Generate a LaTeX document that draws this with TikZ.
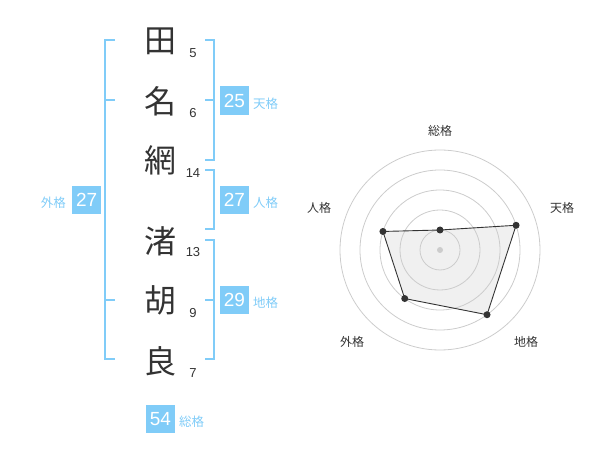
\documentclass[tikz,border=0pt]{standalone}
\usepackage{fontspec}
\setmainfont{Liberation Sans}
\newfontfamily\jp{Noto Sans CJK JP}
\definecolor{kblue}{HTML}{80CCF8}
\definecolor{ink}{HTML}{333333}
\definecolor{ring}{HTML}{CCCCCC}
\definecolor{area}{HTML}{F0F0F0}
\begin{document}
\begin{tikzpicture}[x=1pt,y=-1pt,
  kanji/.style={font=\jp\fontsize{32}{32}\selectfont, text=ink, inner sep=0pt},
  strokes/.style={font=\fontsize{13}{13}\selectfont, text=ink, inner sep=0pt},
  kbox/.style={fill=kblue, text=white, minimum size=28.5pt, inner sep=0pt, font=\fontsize{19}{19}\selectfont},
  klabel/.style={text=kblue, font=\jp\fontsize{12.5}{12.5}\selectfont, inner sep=0pt},
  brack/.style={draw=kblue, line width=2pt},
  rlabel/.style={text=ink, font=\jp\fontsize{12}{12}\selectfont, inner sep=0pt},
  ringline/.style={draw=ring, line width=0.8pt},
  vdot/.style={circle, fill=ink, minimum size=7pt, inner sep=0pt},
  cdot/.style={circle, fill=ring, minimum size=6pt, inner sep=0pt},
  poly/.style={draw=ink, line width=0.9pt}
]
\useasboundingbox (0,0) rectangle (600,470);

% characters
\node[kanji] (c1) at (160,41) {田};
\node[kanji] (c2) at (160,101) {名};
\node[kanji] (c3) at (160,160) {網};
\node[kanji] (c4) at (160,241) {渚};
\node[kanji] (c5) at (160,300) {胡};
\node[kanji] (c6) at (160,361) {良};

% stroke counts
\node[strokes] (n1) at (193,53) {5};
\node[strokes] (n2) at (193,113) {6};
\node[strokes] (n3) at (193,173) {14};
\node[strokes] (n4) at (193,252) {13};
\node[strokes] (n5) at (193,313) {9};
\node[strokes] (n6) at (193,373) {7};

% right brackets
\coordinate (t1) at (205,40);
\coordinate (t2) at (205,160);
\coordinate (tm) at (205,100);
\draw[brack] (t1) -- ++(9,0) |- (t2);
\draw[brack] (tm) -- ++(9,0);

\coordinate (j1) at (205,170);
\coordinate (j2) at (205,229);
\draw[brack] (j1) -- ++(9,0) |- (j2);

\coordinate (g1) at (205,240);
\coordinate (g2) at (205,359);
\coordinate (gm) at (205,300);
\draw[brack] (g1) -- ++(9,0) |- (g2);
\draw[brack] (gm) -- ++(9,0);

% left bracket
\coordinate (l1) at (115,40);
\coordinate (l2) at (115,359);
\coordinate (lm1) at (115,100);
\coordinate (lm2) at (115,300);
\draw[brack] (l1) -- ++(-10,0) |- (l2);
\draw[brack] (lm1) -- ++(-10,0);
\draw[brack] (lm2) -- ++(-10,0);

% boxes and labels
\node[kbox] (b1) at (234.5,100.5) {25};
\node[klabel, anchor=west] (k1) at (253,104) {天格};
\node[kbox] (b2) at (234.5,200) {27};
\node[klabel, anchor=west] (k2) at (253,203) {人格};
\node[kbox] (b3) at (234.5,300) {29};
\node[klabel, anchor=west] (k3) at (253,303) {地格};
\node[kbox] (b4) at (86.7,200) {27};
\node[klabel, anchor=east] (k4) at (66,203) {外格};
\node[kbox] (b5) at (160.5,419) {54};
\node[klabel, anchor=west] (k5) at (179,422) {総格};

% radar chart
\begin{scope}[shift={(440,250)}, y=1pt]
  \coordinate (o) at (0,0);
  \coordinate (q1) at (90:20);
  \coordinate (q2) at (18:80);
  \coordinate (q3) at (-54:80);
  \coordinate (q4) at (-126:60);
  \coordinate (q5) at (162:60);
  \fill[area] (q1) -- (q2) -- (q3) -- (q4) -- (q5) -- cycle;
  \foreach \r in {20,40,60,80,100} \draw[ringline] (o) circle[radius=\r];
  \draw[poly] (q1) -- (q2) -- (q3) -- (q4) -- (q5) -- cycle;
  \node[cdot] (ctr) at (o) {};
  \node[vdot] (p1) at (q1) {};
  \node[vdot] (p2) at (q2) {};
  \node[vdot] (p3) at (q3) {};
  \node[vdot] (p4) at (q4) {};
  \node[vdot] (p5) at (q5) {};
  \node[rlabel] (r1) at (0,119) {総格};
  \node[rlabel] (r2) at (122,42) {天格};
  \node[rlabel] (r3) at (86,-92) {地格};
  \node[rlabel] (r4) at (-88,-92) {外格};
  \node[rlabel] (r5) at (-121,42) {人格};
\end{scope}
\end{tikzpicture}
\end{document}
